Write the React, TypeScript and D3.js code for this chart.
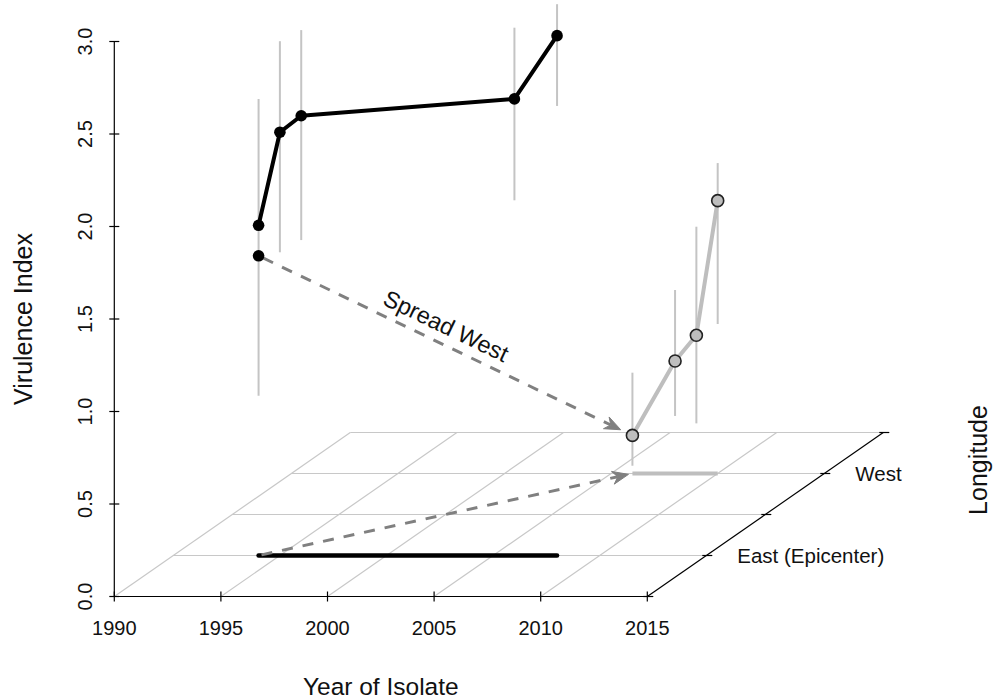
import React from "react";
import * as d3 from "d3";

// ---- data ----
const yearTicks = [1990, 1995, 2000, 2005, 2010, 2015];
const valueTicks = [0, 0.5, 1, 1.5, 2, 2.5, 3];
const longitudeLevels = [0, 1, 2, 3, 4];
const longitudeLabels = [
  { level: 1, label: "East (Epicenter)" },
  { level: 3, label: "West" },
];
const EAST = 1;
const WEST = 3;

const eastYears = [1994, 1995, 1996, 2006, 2008];
const eastValues = [1.785, 2.288, 2.377, 2.468, 2.81];
const eastLow = [0.864, 1.639, 1.705, 1.92, 2.43];
const eastHigh = [2.468, 2.78, 2.84, 2.853, 2.98];
const originYear = 1994;
const originValue = 1.62;

const westYears = [2006, 2008, 2009, 2010];
const westValues = [0.206, 0.608, 0.747, 1.475];
const westLow = [0.042, 0.311, 0.271, 0.808];
const westHigh = [0.545, 0.992, 1.334, 1.678];

// ---- layout ----
const W = 998;
const H = 700;
const x = d3.scaleLinear().domain([1990, 2015]).range([114.3, 647.3]);
const z = d3.scaleLinear().domain([0, 3]).range([596.5, 41.5]);
const depth = d3.scaleLinear().domain([0, 4]).range([0, 1]);
const DX = 236;
const DY = -164;

function proj(year: number, lev: number, val: number): [number, number] {
  const t = depth(lev);
  return [x(year) + t * DX, z(val) + t * DY];
}

const FONT = "'Liberation Sans', Arial, Helvetica, sans-serif";
const GRID = "#c8c8c8";
const BAR = "#c4c4c4";
const GRAYPT = "#bebebe";
const ARROW = "#808080";

function Arrow({ from, to, startGap, endGap }: { from: [number, number]; to: [number, number]; startGap: number; endGap: number }) {
  const dx = to[0] - from[0];
  const dy = to[1] - from[1];
  const len = Math.hypot(dx, dy);
  const ux = dx / len;
  const uy = dy / len;
  const nx = -uy;
  const ny = ux;
  const s: [number, number] = [from[0] + ux * startGap, from[1] + uy * startGap];
  const tip: [number, number] = [to[0] - ux * endGap, to[1] - uy * endGap];
  const L = 16;
  const Wd = 6.5;
  const back: [number, number] = [tip[0] - ux * L, tip[1] - uy * L];
  const notch: [number, number] = [tip[0] - ux * (L - 5), tip[1] - uy * (L - 5)];
  const p1: [number, number] = [back[0] + nx * Wd, back[1] + ny * Wd];
  const p2: [number, number] = [back[0] - nx * Wd, back[1] - ny * Wd];
  return (
    <g>
      <line x1={s[0]} y1={s[1]} x2={notch[0]} y2={notch[1]} stroke={ARROW} strokeWidth={3} strokeDasharray="11 10" />
      <path d={`M${tip[0]},${tip[1]}L${p1[0]},${p1[1]}L${notch[0]},${notch[1]}L${p2[0]},${p2[1]}Z`} fill={ARROW} stroke={ARROW} strokeWidth={1} strokeLinejoin="round" />
    </g>
  );
}

export default function App() {
  const line = d3.line<[number, number]>().x((d) => d[0]).y((d) => d[1]);
  const eastPts = eastYears.map((yr, i) => proj(yr, EAST, eastValues[i]));
  const westPts = westYears.map((yr, i) => proj(yr, WEST, westValues[i]));
  const origin = proj(originYear, EAST, originValue);

  const eastFloor = [proj(eastYears[0], EAST, 0), proj(eastYears[eastYears.length - 1], EAST, 0)];
  const westFloor = [proj(westYears[0], WEST, 0), proj(westYears[westYears.length - 1], WEST, 0)];

  const axisStart = proj(2015, 0, 0);
  const axisEnd = proj(2015, 4, 0);
  const midY = (z(0) + z(3)) / 2;

  const spreadMid: [number, number] = [446, 326];
  const ang = (Math.atan2(westPts[0][1] - origin[1], westPts[0][0] - origin[0]) * 180) / Math.PI;

  return (
    <svg width={W} height={H} style={{ position: "absolute", left: 0, top: 0, background: "#fff" }} fontFamily={FONT}>
      {/* floor grid */}
      {longitudeLevels.slice(1).map((lv) => {
        const a = proj(1990, lv, 0);
        const b = proj(2015, lv, 0);
        return <line key={"h" + lv} x1={a[0]} y1={a[1]} x2={b[0]} y2={b[1]} stroke={GRID} strokeWidth={1.2} />;
      })}
      {yearTicks.slice(0, -1).map((yr) => {
        const a = proj(yr, 0, 0);
        const b = proj(yr, 4, 0);
        return <line key={"d" + yr} x1={a[0]} y1={a[1]} x2={b[0]} y2={b[1]} stroke={GRID} strokeWidth={1.2} />;
      })}

      {/* axes */}
      <line x1={x(1990)} y1={z(0)} x2={x(2015)} y2={z(0)} stroke="#000" strokeWidth={1.2} />
      {yearTicks.map((yr) => (
        <g key={"xt" + yr}>
          <line x1={x(yr)} y1={z(0) - 5} x2={x(yr)} y2={z(0) + 5} stroke="#000" strokeWidth={1.2} />
          <text x={x(yr)} y={635} textAnchor="middle" fontSize={20} fill="#111">{yr}</text>
        </g>
      ))}
      <line x1={x(1990)} y1={z(0)} x2={x(1990)} y2={z(3)} stroke="#000" strokeWidth={1.2} />
      {valueTicks.map((v) => (
        <g key={"zt" + v}>
          <line x1={x(1990) - 5} y1={z(v)} x2={x(1990) + 5} y2={z(v)} stroke="#000" strokeWidth={1.2} />
          <text transform={`translate(92,${z(v)}) rotate(-90)`} textAnchor="middle" fontSize={20} fill="#111">{d3.format(".1f")(v)}</text>
        </g>
      ))}
      <line x1={axisStart[0]} y1={axisStart[1]} x2={axisEnd[0]} y2={axisEnd[1]} stroke="#000" strokeWidth={1.2} />
      {longitudeLevels.map((lv) => {
        const p = proj(2015, lv, 0);
        return <line key={"lt" + lv} x1={p[0] - 4} y1={p[1]} x2={p[0] + 6} y2={p[1]} stroke="#000" strokeWidth={1.2} />;
      })}
      {longitudeLabels.map((d) => {
        const p = proj(2015, d.level, 0);
        return (
          <text key={d.label} x={p[0] + 31} y={p[1]} dominantBaseline="central" fontSize={20.5} fill="#111">{d.label}</text>
        );
      })}

      {/* axis titles */}
      <text x={(x(1990) + x(2015)) / 2} y={695} textAnchor="middle" fontSize={24.5} fill="#111">Year of Isolate</text>
      <text transform={`translate(32,${midY}) rotate(-90)`} textAnchor="middle" fontSize={25} fill="#111">Virulence Index</text>
      <text transform={`translate(987,460) rotate(-90)`} textAnchor="middle" fontSize={25} fill="#111">Longitude</text>

      {/* floor traces */}
      <path d={line(eastFloor as [number, number][]) || ""} stroke="#000" strokeWidth={4.5} fill="none" strokeLinecap="round" />
      <path d={line(westFloor as [number, number][]) || ""} stroke={GRAYPT} strokeWidth={4} fill="none" />

      {/* spread arrows */}
      <Arrow from={proj(originYear, EAST, 0)} to={westFloor[0]} startGap={3} endGap={4} />
      <Arrow from={origin} to={westPts[0]} startGap={5} endGap={13} />
      <text transform={`translate(${spreadMid[0]},${spreadMid[1]}) rotate(${ang})`} textAnchor="middle" dominantBaseline="central" fontSize={23.5} fill="#111">Spread West</text>

      {/* error bars */}
      {eastYears.map((yr, i) => {
        const a = proj(yr, EAST, eastLow[i]);
        const b = proj(yr, EAST, eastHigh[i]);
        return <line key={"eb" + i} x1={a[0]} y1={a[1]} x2={b[0]} y2={b[1]} stroke={BAR} strokeWidth={2} />;
      })}
      {westYears.map((yr, i) => {
        const a = proj(yr, WEST, westLow[i]);
        const b = proj(yr, WEST, westHigh[i]);
        return <line key={"wb" + i} x1={a[0]} y1={a[1]} x2={b[0]} y2={b[1]} stroke={BAR} strokeWidth={2} />;
      })}

      {/* series lines */}
      <path d={line(eastPts) || ""} stroke="#000" strokeWidth={4} fill="none" strokeLinejoin="round" />
      <path d={line(westPts) || ""} stroke={GRAYPT} strokeWidth={4} fill="none" strokeLinejoin="round" />

      {/* points */}
      <circle cx={origin[0]} cy={origin[1]} r={5.8} fill="#000" />
      {eastPts.map((p, i) => (
        <circle key={"ep" + i} cx={p[0]} cy={p[1]} r={5.8} fill="#000" />
      ))}
      {westPts.map((p, i) => (
        <circle key={"wp" + i} cx={p[0]} cy={p[1]} r={6} fill={GRAYPT} stroke="#222" strokeWidth={1.6} />
      ))}
    </svg>
  );
}
